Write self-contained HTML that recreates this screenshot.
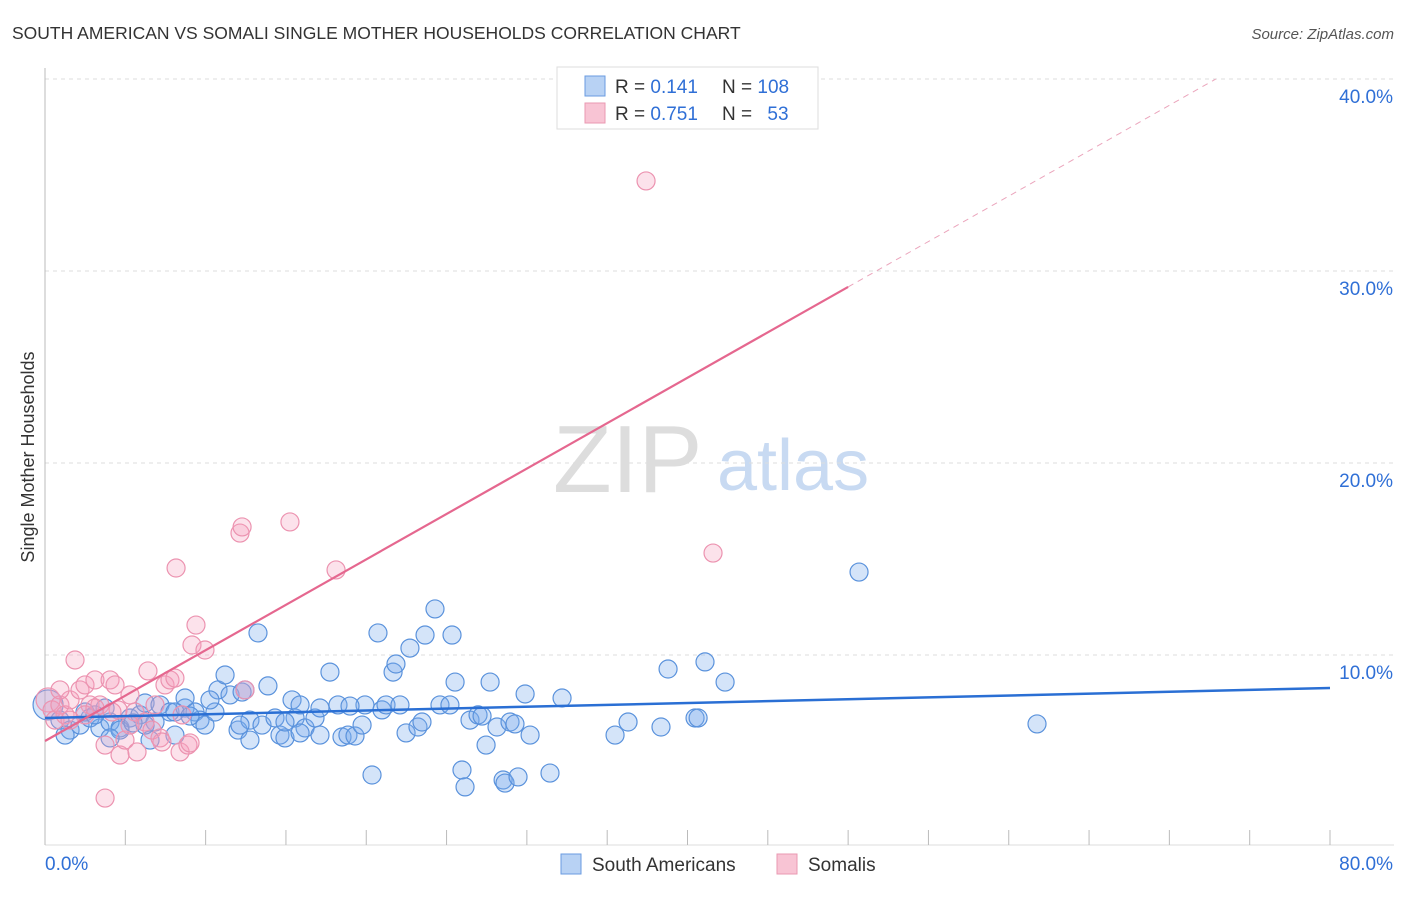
<!DOCTYPE html>
<html><head><meta charset="utf-8"><style>
body{margin:0;background:#fff;font-family:"Liberation Sans",sans-serif}
svg text{font-family:"Liberation Sans",sans-serif}
</style></head><body>
<svg id="chart" width="1406" height="892" viewBox="0 0 1406 892" xmlns="http://www.w3.org/2000/svg">
<text x="12" y="39" font-size="17.5" fill="#333">SOUTH AMERICAN VS SOMALI SINGLE MOTHER HOUSEHOLDS CORRELATION CHART</text>
<text x="1394" y="39" font-size="15" fill="#555" font-style="italic" text-anchor="end">Source: ZipAtlas.com</text>
<g>
<text x="553" y="492" font-size="96" fill="#ddd" font-family="Liberation Serif">ZIP</text>
<text x="717" y="490" font-size="72" fill="#c8daf2">atlas</text>
</g>
<g id="grid"></g>
<g id="axes"></g>
<g id="marks"></g>
<text transform="translate(34,457) rotate(-90)" font-size="18" fill="#333" text-anchor="middle">Single Mother Households</text>
<g>
<rect x="557" y="67" width="261" height="62" fill="#fff" stroke="#ddd"/>
<rect x="585" y="76" width="20" height="20" fill="#b8d2f4" stroke="#6a9be0"/>
<rect x="585" y="103" width="20" height="20" fill="#f8c4d4" stroke="#ea98b2"/>
<text x="615" y="93" font-size="19" fill="#333">R = <tspan fill="#2f6fd6">0.141</tspan></text>
<text x="722" y="93" font-size="19" fill="#333">N = <tspan fill="#2f6fd6">108</tspan></text>
<text x="615" y="120" font-size="19" fill="#333">R = <tspan fill="#2f6fd6">0.751</tspan></text>
<text x="722" y="120" font-size="19" fill="#333">N = <tspan fill="#2f6fd6" dx="10">53</tspan></text>
</g>
<g>
<rect x="561" y="854" width="20" height="20" fill="#b8d2f4" stroke="#6a9be0"/>
<text x="592" y="871" font-size="19" fill="#333">South Americans</text>
<rect x="777" y="854" width="20" height="20" fill="#f8c4d4" stroke="#ea98b2"/>
<text x="808" y="871" font-size="19" fill="#333">Somalis</text>
</g>
</svg>
<script>
const xTicks=[0,10,20,30,40,50,60,70,80];
const yTicks=[10,20,30,40];
const blueX=[0.19,0.93,1.56,2.18,2.80,3.42,4.05,4.67,5.29,5.91,6.23,6.85,7.16,7.78,8.09,8.72,9.34,9.65,9.96,10.58,10.77,11.21,11.52,12.02,12.27,12.45,12.76,13.26,13.51,13.88,14.32,14.63,14.94,15.38,15.57,15.88,16.19,16.81,17.12,17.74,18.24,18.49,18.86,19.30,19.74,19.92,20.36,20.73,20.98,21.23,21.67,21.85,22.10,22.48,22.72,23.22,23.47,23.66,24.28,24.59,25.21,25.34,25.53,25.96,26.15,26.46,26.96,27.21,27.46,27.71,28.14,28.52,28.64,28.95,29.26,29.45,29.89,30.20,31.44,32.19,35.49,36.30,38.35,38.79,41.09,40.47,40.66,42.34,50.68,61.76,4.67,1.25,6.54,10.27,8.72,17.12,18.99,6.23,2.49,3.11,3.74,8.09,9.03,12.14,12.76,14.94,15.88,5.48,4.05];
const blueY=[7.40,6.61,6.09,6.35,6.72,6.20,6.51,6.20,6.72,6.88,7.50,6.51,7.40,7.03,5.83,7.24,7.03,6.61,6.35,7.03,8.18,8.96,7.92,6.09,8.07,8.18,6.61,11.15,6.35,8.39,6.72,5.83,5.68,7.66,6.72,7.40,6.20,6.72,5.83,9.11,7.40,5.73,5.83,5.78,6.35,7.40,3.75,11.15,7.14,7.40,9.11,9.53,7.40,5.94,10.36,6.25,6.51,11.04,12.40,7.40,7.40,11.04,8.59,4.01,3.13,6.61,6.88,6.82,5.31,8.59,6.25,3.49,3.33,6.51,6.41,3.65,7.97,5.83,3.85,7.76,5.83,6.51,6.25,9.27,9.64,6.72,6.72,8.59,14.32,6.41,6.09,5.83,5.57,7.66,7.76,7.24,7.34,6.35,7.03,6.88,7.24,7.03,6.82,6.35,5.57,6.51,5.94,6.46,5.68];
const pinkX=[0.19,0.44,0.62,0.93,1.25,1.56,1.87,2.18,2.49,2.80,3.11,3.42,3.74,4.05,4.36,4.55,4.67,4.98,5.29,5.60,5.73,6.23,6.41,6.66,7.16,7.28,7.47,7.78,8.09,8.16,8.41,8.53,8.90,9.03,9.15,9.40,9.96,12.14,12.27,12.45,15.25,18.12,37.42,41.59,3.74,2.49,3.11,6.85,4.17,5.29,1.56,0.93];
const pinkY=[7.66,7.14,6.61,7.40,6.88,7.66,9.74,8.18,8.44,7.40,8.70,7.40,5.31,8.70,8.44,7.14,4.79,5.57,7.92,7.03,4.95,6.51,9.17,6.09,5.68,5.47,8.44,8.70,8.80,14.53,4.95,6.88,5.31,5.42,10.52,11.56,10.26,16.35,16.67,8.18,16.93,14.43,34.69,15.31,2.55,6.88,7.24,7.40,7.03,6.35,6.61,8.18];
const blueTrend=[6.72,8.28];
const pinkTrend=[5.52,0.473];
const NS="http://www.w3.org/2000/svg";
const X=v=>45+v/80*1285;
const Y=v=>847-v*19.2;
function mk(tag,attrs,parent){const e=document.createElementNS(NS,tag);for(const k in attrs)e.setAttribute(k,attrs[k]);parent.appendChild(e);return e;}
const grid=document.getElementById('grid'),axes=document.getElementById('axes'),marks=document.getElementById('marks');
yTicks.forEach(t=>{
const l=mk('line',{x1:45,x2:1394,y1:Y(t),y2:Y(t),stroke:'#ddd','stroke-dasharray':'4,4'},grid);


const tx=mk('text',{x:1393,y:Y(t)+24,'font-size':19,fill:'#2f6fd6','text-anchor':'end'},axes);
tx.textContent=t.toFixed(1)+'%';


});
const ax=mk('line',{x1:45,x2:45,y1:68,y2:845,stroke:'#bbb'},axes);


const bx=mk('line',{x1:45,x2:1394,y1:845,y2:845,stroke:'#ddd'},axes);


for(let v=0;v<=80;v+=5){
const tk=mk('line',{x1:X(v)+(v%10?0:0),x2:X(v),y1:830,y2:845,stroke:'#bbb'},axes);


}
[[0,'start',45],[80,'end',1393]].forEach(([v,a,x])=>{
const tx=mk('text',{x:x,y:870,'font-size':19,fill:'#2f6fd6','text-anchor':a},axes);
tx.textContent=v.toFixed(1)+'%';


});
blueX.forEach((v,i)=>{
const c=mk('circle',{cx:X(v),cy:Y(blueY[i]),r:i==0?15:9,fill:'rgba(120,170,235,0.32)',stroke:'#5a92dc','stroke-width':1.2},marks);


});
pinkX.forEach((v,i)=>{
const c=mk('circle',{cx:X(v),cy:Y(pinkY[i]),r:i==0?12:9,fill:'rgba(245,160,190,0.3)',stroke:'#ec93b0','stroke-width':1.2},marks);


});
const bl=mk('line',{x1:X(0),y1:Y(blueTrend[0]),x2:X(80),y2:Y(blueTrend[1]),stroke:'#2a6fd4','stroke-width':2.5},marks);


const pEnd=50, pMax=(40-pinkTrend[0])/pinkTrend[1];
const pl=mk('line',{x1:X(0),y1:Y(pinkTrend[0]),x2:X(pEnd),y2:Y(pinkTrend[0]+pinkTrend[1]*pEnd),stroke:'#e5678f','stroke-width':2.2},marks);


const pd=mk('line',{x1:X(pEnd),y1:Y(pinkTrend[0]+pinkTrend[1]*pEnd),x2:X(pMax),y2:Y(40),stroke:'#eba5bc','stroke-width':1,'stroke-dasharray':'6,5'},marks);


</script>
</body></html>
